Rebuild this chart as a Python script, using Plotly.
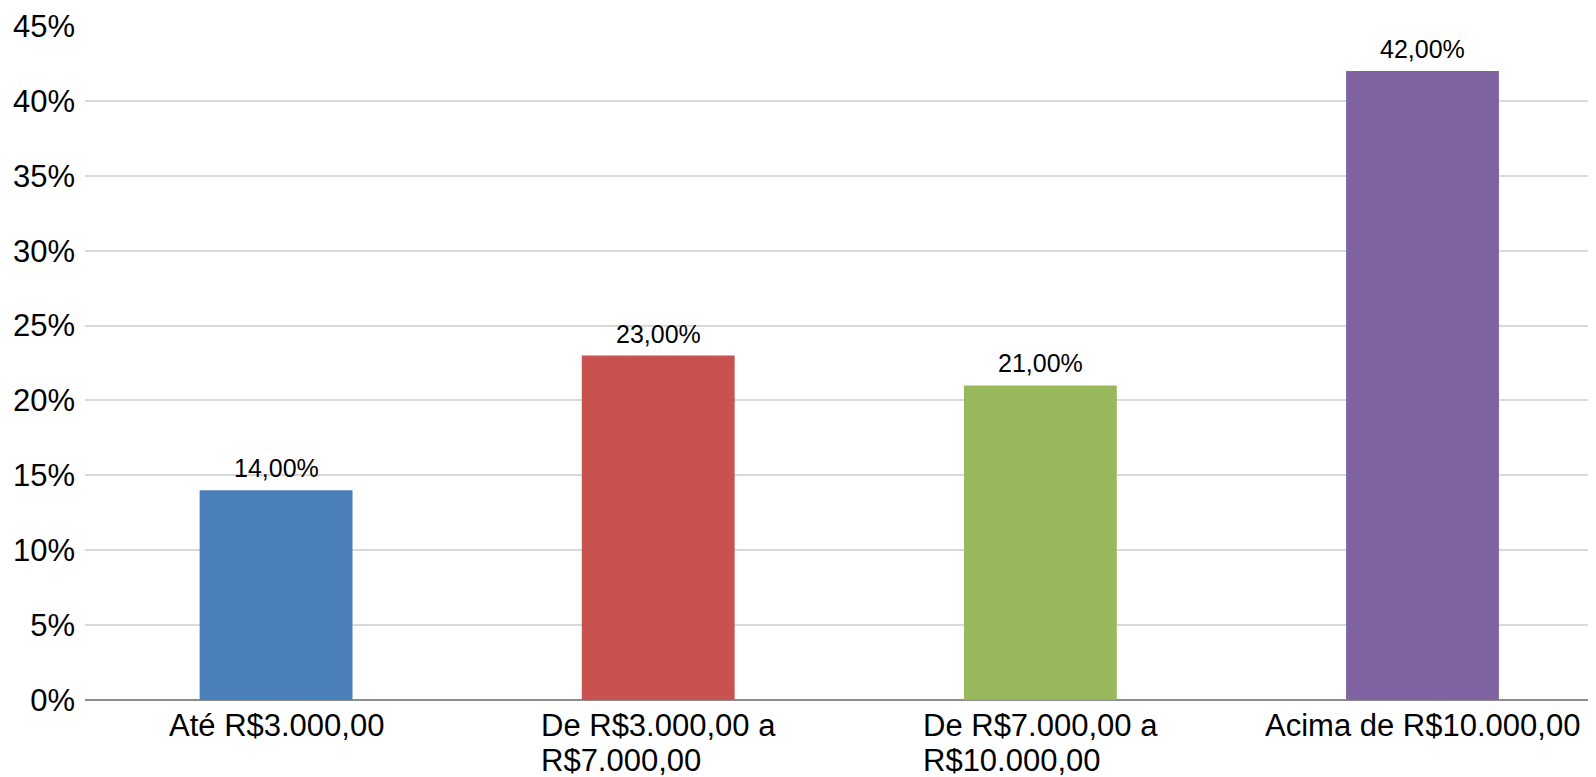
import plotly.graph_objects as go

categories = ["Até R$3.000,00", "De R$3.000,00 a R$7.000,00",
              "De R$7.000,00 a R$10.000,00", "Acima de R$10.000,00"]
label_line1 = ["Até R$3.000,00", "De R$3.000,00 a", "De R$7.000,00 a", "Acima de R$10.000,00"]
label_line2 = ["", "R$7.000,00", "R$10.000,00", ""]
values = [14, 23, 21, 42]
value_labels = ["14,00%", "23,00%", "21,00%", "42,00%"]
colors = ["#4A7FBA", "#C7524F", "#98B95B", "#8064A1"]
y_ticks = [0, 5, 10, 15, 20, 25, 30, 35, 40, 45]
y_tick_labels = [f"{t}%" for t in y_ticks]

xs = list(range(len(categories)))
font = "Liberation Sans, Arial, sans-serif"
label_size = 31

fig = go.Figure()
fig.add_trace(go.Bar(x=xs, y=values, marker=dict(color=colors, line=dict(width=0)),
                     width=0.4, hoverinfo="skip", name=""))

for x, v, lab in zip(xs, values, value_labels):
    fig.add_annotation(x=x, y=v, xref="x", yref="y", text=lab, showarrow=False,
                       yanchor="bottom", yshift=6,
                       font=dict(family=font, size=25, color="#000000"))

for x, l1, l2 in zip(xs, label_line1, label_line2):
    fig.add_annotation(x=x, y=0, xref="x", yref="paper", text=l1, showarrow=False,
                       yanchor="top", xanchor="center", yshift=-7, borderpad=0,
                       font=dict(family=font, size=label_size, color="#000000"))
    if l2:
        # second line, left-aligned with the first line (half its width to the left)
        fig.add_annotation(x=x, y=0, xref="x", yref="paper", text=l2, showarrow=False,
                           yanchor="top", xanchor="left", yshift=-42, xshift=-118,
                           borderpad=0,
                           font=dict(family=font, size=label_size, color="#000000"))

# the page body adds an 8px offset, so the figure is 8px smaller than the window
fig.update_layout(
    width=1588, height=769,
    margin=dict(l=77, r=0, t=18, b=77),
    paper_bgcolor="white", plot_bgcolor="white",
    showlegend=False,
    font=dict(family=font, color="#000000"),
)
fig.update_xaxes(range=[-0.5, 3.454], showticklabels=False, showgrid=False,
                 zeroline=False, showline=False, ticks="")
fig.update_yaxes(range=[0, 45], tickvals=y_ticks, ticktext=y_tick_labels,
                 showgrid=True, gridcolor="#D9D9D9", gridwidth=2,
                 zeroline=True, zerolinecolor="#8C8C8C", zerolinewidth=2,
                 showline=False, ticks="", ticklabelstandoff=9,
                 tickfont=dict(family=font, size=31, color="#000000"))

fig.write_html("out.html")
